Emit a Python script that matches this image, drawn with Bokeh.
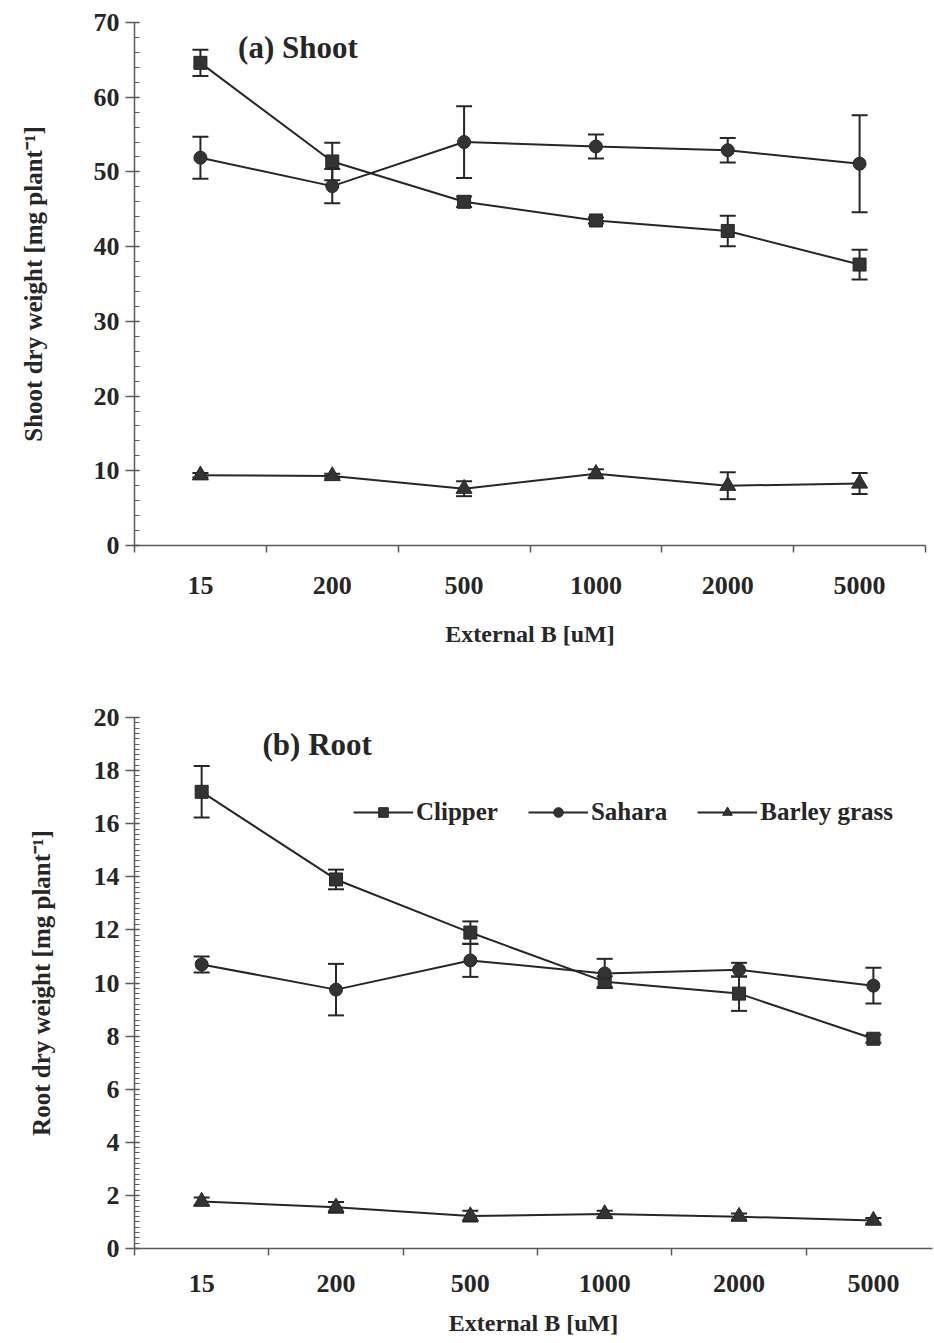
from bokeh.plotting import figure
from bokeh.models import (ColumnDataSource, Whisker, TeeHead, FixedTicker,
                          SingleIntervalTicker, Range1d, Label, Legend, LegendItem)
from bokeh.layouts import column
from bokeh.embed import file_html
from bokeh.resources import INLINE

# ---------------- data ----------------
concentrations = ["15", "200", "500", "1000", "2000", "5000"]
series_names = ["Clipper", "Sahara", "Barley grass"]

shoot_clipper = [64.6, 51.4, 46.0, 43.5, 42.1, 37.6]
shoot_clipper_se = [1.75, 2.5, 0.7, 0.4, 2.05, 2.0]
shoot_sahara = [51.9, 48.1, 54.0, 53.4, 52.9, 51.1]
shoot_sahara_se = [2.8, 2.3, 4.8, 1.6, 1.65, 6.5]
shoot_barley = [9.4, 9.3, 7.6, 9.6, 8.0, 8.3]
shoot_barley_se = [0.3, 0.3, 1.0, 0.6, 1.8, 1.4]

root_clipper = [17.2, 13.9, 11.9, 10.05, 9.6, 7.9]
root_clipper_se = [0.97, 0.37, 0.42, 0.2, 0.65, 0.15]
root_sahara = [10.7, 9.75, 10.85, 10.36, 10.5, 9.9]
root_sahara_se = [0.3, 0.97, 0.62, 0.55, 0.26, 0.67]
root_barley = [1.77, 1.55, 1.22, 1.3, 1.2, 1.05]
root_barley_se = [0.15, 0.2, 0.2, 0.12, 0.12, 0.1]

x_title = "External B [uM]"
shoot_ytitle = "Shoot dry weight [mg plant\u207b\u00b9]"
root_ytitle = "Root dry weight [mg plant\u207b\u00b9]"
shoot_panel = "(a) Shoot"
root_panel = "(b) Root"

FONT = "Liberation Serif"
INK = "#262626"
AXIS = "#5a5a5a"
markers = ["square", "circle", "triangle"]


def make_panel(series, errs, y_max, y_interval, y_minor, ytitle, panel_text,
               panel_xy, frame_w, x_end, left, right, top, frame_h, bottom,
               ylab_standoff, xlab_standoff, xtitle_standoff, show_legend,
               marker_size):
    xs = [i + 0.5 for i in range(len(concentrations))]
    p = figure(frame_width=frame_w, frame_height=frame_h,
               x_range=Range1d(0, x_end), y_range=Range1d(0, y_max),
               output_backend="svg", toolbar_location=None,
               min_border_left=left, min_border_right=right,
               min_border_top=top, min_border_bottom=bottom)
    p.outline_line_color = None
    p.xgrid.visible = False
    p.ygrid.visible = False
    p.background_fill_color = "white"
    p.border_fill_color = "white"

    # x axis: labels at category centres, ticks on boundaries
    xa = p.xaxis[0]
    xa.ticker = FixedTicker(ticks=xs, minor_ticks=list(range(len(concentrations) + 1)))
    xa.major_label_overrides = {x: c for x, c in zip(xs, concentrations)}
    xa.major_tick_out = 0
    xa.major_tick_in = 0
    xa.minor_tick_out = 7
    xa.minor_tick_in = 0
    xa.axis_line_color = AXIS
    xa.axis_line_width = 1.5
    xa.minor_tick_line_color = AXIS
    xa.minor_tick_line_width = 1.5
    xa.major_label_standoff = xlab_standoff
    xa.major_label_text_font = FONT
    xa.major_label_text_font_style = "bold"
    xa.major_label_text_font_size = "26px"
    xa.major_label_text_color = INK
    xa.axis_label = x_title
    xa.axis_label_text_font = FONT
    xa.axis_label_text_font_style = "bold"
    xa.axis_label_text_font_size = "24px"
    xa.axis_label_text_color = INK
    xa.axis_label_standoff = xtitle_standoff

    ya = p.yaxis[0]
    ya.ticker = SingleIntervalTicker(interval=y_interval, num_minor_ticks=y_minor)
    ya.major_tick_out = 9
    ya.major_tick_in = 5
    ya.minor_tick_out = 0
    ya.minor_tick_in = 5
    ya.axis_line_color = AXIS
    ya.axis_line_width = 1.5
    ya.major_tick_line_color = AXIS
    ya.major_tick_line_width = 1.5
    ya.minor_tick_line_color = AXIS
    ya.minor_tick_line_width = 1.2
    ya.major_label_standoff = 6
    ya.major_label_text_font = FONT
    ya.major_label_text_font_style = "bold"
    ya.major_label_text_font_size = "26px"
    ya.major_label_text_color = INK
    ya.axis_label = ytitle
    ya.axis_label_text_font = FONT
    ya.axis_label_text_font_style = "bold"
    ya.axis_label_text_font_size = "25px"
    ya.axis_label_text_color = INK
    ya.axis_label_standoff = ylab_standoff

    items = []
    for name, ys, se, mk in zip(series_names, series, errs, markers):
        src = ColumnDataSource(dict(x=xs, y=ys,
                                    up=[a + b for a, b in zip(ys, se)],
                                    lo=[a - b for a, b in zip(ys, se)]))
        w = Whisker(source=src, base="x", upper="up", lower="lo",
                    line_color=INK, line_width=2,
                    upper_head=TeeHead(size=16, line_color=INK, line_width=2),
                    lower_head=TeeHead(size=16, line_color=INK, line_width=2))
        p.add_layout(w)
        lr = p.line("x", "y", source=src, line_color=INK, line_width=2)
        sz = marker_size + (3 if mk == "triangle" else 0)
        sr = p.scatter("x", "y", source=src, marker=mk, size=sz,
                       fill_color="#333333", line_color=INK, line_width=1)
        items.append(LegendItem(label=name, renderers=[lr, sr]))

    p.add_layout(Label(x=panel_xy[0], y=panel_xy[1], text=panel_text,
                       text_font=FONT, text_font_style="bold",
                       text_font_size="31px", text_color=INK,
                       text_align="center", text_baseline="middle"))

    if show_legend:
        lg = Legend(items=items, orientation="horizontal", location=(219, 422),
                    padding=0, margin=0, spacing=30, label_standoff=3,
                    glyph_width=60, glyph_height=24, label_height=24,
                    border_line_color=None, background_fill_alpha=0,
                    label_text_font=FONT, label_text_font_style="bold",
                    label_text_font_size="25px", label_text_color=INK)
        p.add_layout(lg)
    return p


p1 = make_panel([shoot_clipper, shoot_sahara, shoot_barley],
                [shoot_clipper_se, shoot_sahara_se, shoot_barley_se],
                70, 10, 5, shoot_ytitle, shoot_panel, (1.24, 66.7),
                791, 6, 128, 15, 22, 523, 135, 44, 24, 24, False, 13)

p2 = make_panel([root_clipper, root_sahara, root_barley],
                [root_clipper_se, root_sahara_se, root_barley_se],
                20, 2, 10, root_ytitle, root_panel, (1.36, 19.0),
                798, 5.94, 134, 2, 37, 531, 95, 36, 19, 15, True, 13)

layout = column(p1, p2, spacing=0)
open("out.html", "w").write(file_html(layout, INLINE))
